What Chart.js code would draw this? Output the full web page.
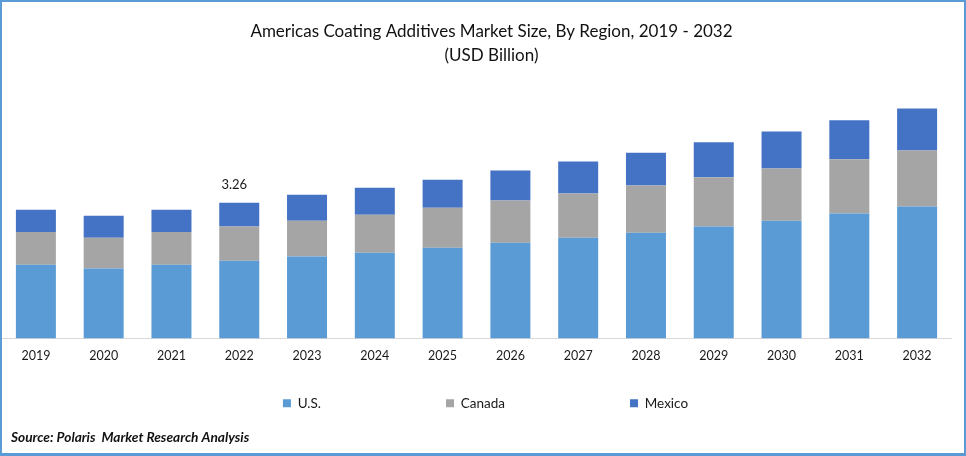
<!DOCTYPE html>
<html><head><meta charset="utf-8">
<style>
html,body{margin:0;padding:0;background:#fff}
#wrap{position:relative;width:966px;height:456px;overflow:hidden}
#frame{position:absolute;left:0;top:0;width:966px;height:456px;box-sizing:border-box;border:2px solid #5B9BD5;border-bottom-width:3px;pointer-events:none}
canvas{display:block}
</style>
<script src="https://cdn.jsdelivr.net/npm/chart.js@4"></script>
</head><body>
<div id="wrap"><canvas id="c" width="966" height="456"></canvas><div id="frame"></div></div>
<script>
const categories=["2019","2020","2021","2022","2023","2024","2025","2026","2027","2028","2029","2030","2031","2032"];
const us=[1.77,1.68,1.77,1.87,1.97,2.06,2.18,2.30,2.42,2.54,2.69,2.83,3.00,3.17];
const canada=[0.79,0.74,0.79,0.82,0.86,0.91,0.96,1.01,1.06,1.13,1.18,1.25,1.30,1.34];
const mexico=[0.53,0.53,0.53,0.57,0.62,0.65,0.67,0.72,0.77,0.79,0.84,0.89,0.94,1.01];
const annotatedYear="2022";
const annotatedLabel="3.26";
const FONT="Lato, Carlito, Calibri, sans-serif";
const LEGEND_PAD=125;
const annotate={id:"annotate",
  beforeLayout(ch){
    const lg=ch.legend;
    if(lg&&!lg._patched){
      lg._patched=true;
      const draw=lg._draw;
      lg._draw=function(){
        const t=this.top,l=this.left,r=this.right;
        this.top=t+31-LEGEND_PAD;
        this.left=l+9;this.right=r+9;
        draw.call(this);
        this.top=t;this.left=l;this.right=r;
      };
    }
  },
  afterLayout(ch){
    ch.titleBlock.left+=15;ch.titleBlock.right+=15;
    const src=ch.boxes.find(b=>b!==ch.titleBlock&&b.options&&b.options.position==="bottom"&&b.options.align==="start");
    if(src){src.left+=9;src.right+=9;}
  },
  afterDatasetsDraw(ch){
    const i=categories.indexOf(annotatedYear);
    const x=ch.scales.x.getPixelForValue(i)-5;
    const y=ch.scales.y.getPixelForValue(us[i]+canada[i]+mexico[i])-18;
    const g=ch.ctx;g.save();g.fillStyle="#1a1a1a";g.font="13px "+FONT;g.textAlign="center";g.textBaseline="middle";
    g.fillText(annotatedLabel,x,y);g.restore();
  }
};
new Chart(document.getElementById("c"),{
  type:"bar",
  data:{labels:categories,datasets:[
    {label:"U.S.",data:us,backgroundColor:"#5B9BD5"},
    {label:"Canada",data:canada,backgroundColor:"#A5A5A5"},
    {label:"Mexico",data:mexico,backgroundColor:"#4472C4"}
  ]},
  options:{
    responsive:false,animation:false,devicePixelRatio:1,
    datasets:{bar:{categoryPercentage:1,barPercentage:0.59}},
    layout:{padding:{left:2,right:15,top:0,bottom:0}},
    scales:{
      x:{stacked:true,grid:{display:false,drawTicks:false},border:{color:"#D9D9D9",width:1},
         ticks:{color:"#1a1a1a",font:{family:FONT,size:12.5},padding:10,maxRotation:0},
         afterFit(s){s.height=27;}},
      y:{stacked:true,display:false,min:0,max:6.11}
    },
    plugins:{
      title:{display:true,text:["Americas Coating Additives Market Size, By Region, 2019 - 2032","(USD Billion)"],
        color:"#111",font:{family:FONT,size:17,weight:"normal",lineHeight:1.41},padding:{top:20,bottom:16}},
      subtitle:{display:true,position:"bottom",align:"start",text:"Source: Polaris  Market Research Analysis",
        color:"#111",font:{family:FONT,size:13.7,weight:"bold",style:"italic",lineHeight:1.2},padding:{top:7,bottom:10}},
      legend:{position:"bottom",align:"center",maxHeight:57,labels:{boxWidth:8,boxHeight:8,padding:LEGEND_PAD,color:"#1a1a1a",font:{family:FONT,size:13.5}}},
      tooltip:{enabled:false}
    }
  },
  plugins:[annotate]
});
</script>
</body></html>
